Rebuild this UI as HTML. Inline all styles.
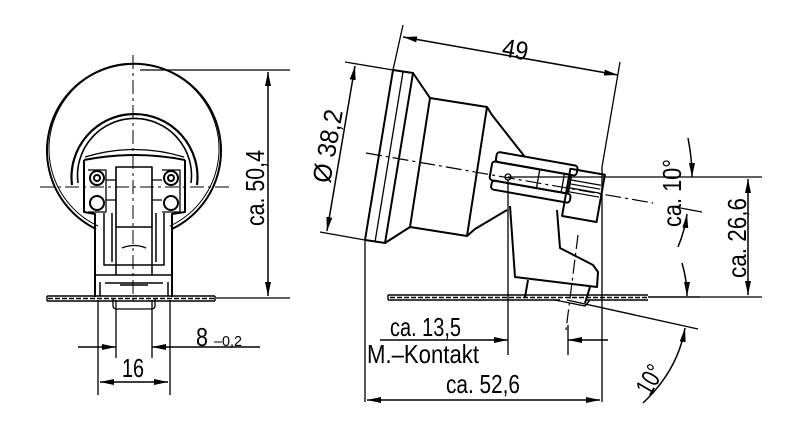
<!DOCTYPE html>
<html><head><meta charset="utf-8"><style>
html,body{margin:0;padding:0;background:#fff;}
svg{display:block}
text{font-family:"Liberation Sans Narrow","Liberation Sans",sans-serif;fill:#000}
</style></head><body>
<svg width="800" height="434" viewBox="0 0 800 434" xmlns="http://www.w3.org/2000/svg">
<defs>
<marker id="b" viewBox="0 0 14 6" refX="14" refY="3" markerWidth="14" markerHeight="6" markerUnits="userSpaceOnUse" orient="auto-start-reverse"><path d="M0,0 L14,3 L0,6 z" fill="#000"/></marker>
</defs>
<g fill="none" stroke="#000" stroke-width="2" stroke-linejoin="round">
<!-- LEFT VIEW -->
<path d="M96,229 A87,87 0 1 1 172,229"/>
<path d="M98,226 A85,85 0 1 1 170,226" stroke-width="1"/>
<path d="M72,185 A63,63 0 1 1 197,185" stroke-width="2.2"/>
<path d="M78,183 A57,57 0 1 1 191,183" stroke-width="1.6"/>
<path d="M84,160 L84,212 L95,214 L95,297 M185,160 L185,212 L172,214 L172,297"/>
<path d="M84,160 Q134,150 185,160" />
<path d="M85,157 Q134,142 184,157" stroke-width="1.3"/>
<rect x="116" y="167" width="36" height="60" stroke-width="1.6"/>
<path d="M104,213 V265 H164 V213 M112,213 V262 M156,213 V262 M116,227 V275 H152 V227 M120,285 H148 M95,275 H172 M100,282 V296 M168,282 V296 M105,283 H163" stroke-width="1.5"/>
<path d="M122,248 Q134,243 146,248" stroke-width="1.3"/>
<circle cx="97" cy="178" r="7"/><circle cx="97" cy="178" r="3"/>
<circle cx="97" cy="203" r="7"/>
<circle cx="171" cy="178" r="7"/><circle cx="171" cy="178" r="3"/>
<circle cx="171" cy="203" r="7"/>
<path d="M88,170 H106 V212 H88 M162,170 H180 V212 H162" stroke-width="1.3"/>
<path d="M106,180 H116 M106,200 H116 M152,180 H162 M152,200 H162" stroke-width="1.3"/>
<path d="M113,299 V306 Q113,309 117,309 H151 Q155,309 155,306 V299" stroke-width="1.3"/>
<!-- plate left -->
<path d="M47,296 H215 M47,301 H215 M47,296 V301 M215,296 V301" stroke-width="1.4"/>
<path d="M48,298.5 H214" stroke-width="1.6" stroke-dasharray="5,2"/>
<!-- left centerlines -->
<path d="M133,55 V305" stroke-width="1" stroke-dasharray="14,4,3,4"/>
<path d="M40,187 H230" stroke-width="1" stroke-dasharray="14,4,3,4"/>
<!-- dims left -->
<path d="M140,70 H290 M216,298 H290" stroke-width="1.3"/>
<path d="M268,72 V296" stroke-width="1.5" marker-start="url(#b)" marker-end="url(#b)"/>
<path d="M98,300 V395 M170,300 V395 M116,300 V358 M152,300 V358" stroke-width="1.3"/>
<path d="M78,347 H116" stroke-width="1.5" marker-end="url(#b)"/>
<path d="M260,347 H152" stroke-width="1.5" marker-end="url(#b)"/>
<path d="M100,382 H168" stroke-width="1.5" marker-start="url(#b)" marker-end="url(#b)"/>
</g>
<text font-size="26" transform="translate(264,226) rotate(-90)" textLength="76" lengthAdjust="spacingAndGlyphs">ca. 50,4</text>
<text x="196" y="346" font-size="26" textLength="12" lengthAdjust="spacingAndGlyphs">8</text>
<text x="214" y="346" font-size="15" textLength="28" lengthAdjust="spacingAndGlyphs">–0,2</text>
<text x="122" y="377" font-size="26" textLength="22" lengthAdjust="spacingAndGlyphs">16</text>

<g fill="none" stroke="#000" stroke-width="2" stroke-linejoin="round">
<!-- RIGHT VIEW body -->
<path d="M393,70 L413,73 L430,98 L487,107 L492,115 L525,157"/>
<path d="M365,240 L385,243 L410,227 L467,236 L475,229 L507,210"/>
<path d="M393,70 L365,240 M413,73 L385,243 M430,98 L410,227 M487,107 L467,236"/>
<path d="M403,72 L375,242" stroke-width="1.3"/>
<!-- connector -->
<g transform="translate(508,177) rotate(10)">
<rect x="-15" y="-23" width="82" height="10" rx="3"/>
<rect x="-18" y="-13" width="80" height="19" rx="3"/>
<rect x="-15" y="6" width="80" height="9" rx="3"/>
<path d="M30,-13 V6 M55,-13 V6" stroke-width="1.3"/>
<rect x="60" y="-19" width="35" height="48"/>
<path d="M62,-8 H93 M62,-4 H93 M62,0 H93 M62,4 H93" stroke-width="1.2"/>
</g>
<path d="M510,206 L515,277 L597,287 L598,272 L593,265 L560,248 L557,210"/>
<path d="M528,280 L525,297 M590,287 L585,303"/>
<circle cx="508" cy="177" r="3" stroke-width="1.3"/>
<!-- plate right -->
<path d="M388,295 H648 M388,300 H560 M585,300 H648 M388,295 V300" stroke-width="1.4"/>
<path d="M390,297.5 H647" stroke-width="1.6" stroke-dasharray="5,2"/>
<path d="M648,297 H700" stroke-width="1.5"/>
<path d="M555,300 L585,306 L590,300" stroke-width="1.4"/>
<path d="M567,300 L698,329" stroke-width="1.4"/>
<!-- centerlines -->
<path d="M366,153 L653,203" stroke-width="1.2" stroke-dasharray="16,4,3,4"/>
<path d="M578,235 L566,330" stroke-width="1.2" stroke-dasharray="14,4,3,4"/>
<!-- ext lines -->
<path d="M403,25 L393,70" stroke-width="1.3"/>
<path d="M620,62 L602,167 V402" stroke-width="1.3"/>
<path d="M365,240 V402" stroke-width="1.3"/>
<path d="M345,62 L393,70 M320,232 L365,240" stroke-width="1.3"/>
<path d="M508,180 V355 M568,325 V355" stroke-width="1.3"/>
<path d="M508,177 H762 M700,297 H762" stroke-width="1.3"/>
<!-- dims right -->
<path d="M403,37 L618,75" stroke-width="1.5" marker-start="url(#b)" marker-end="url(#b)"/>
<path d="M355,66 L327,231" stroke-width="1.5" marker-start="url(#b)" marker-end="url(#b)"/>
<path d="M748,179 V295" stroke-width="1.5" marker-start="url(#b)" marker-end="url(#b)"/>
<path d="M380,340 H508" stroke-width="1.5" marker-end="url(#b)"/>
<path d="M608,340 H568" stroke-width="1.5" marker-end="url(#b)"/>
<path d="M367,400 H600" stroke-width="1.5" marker-start="url(#b)" marker-end="url(#b)"/>
<!-- angle arcs -->
<path d="M688,138 Q692,158 692,177" stroke-width="1.5" marker-end="url(#b)"/>
<path d="M678,247 Q685,230 687,214" stroke-width="1.5" marker-end="url(#b)"/>
<path d="M675,207 L702,212" stroke-width="1.3"/>
<path d="M682,263 Q687,280 687,296" stroke-width="1.5" marker-end="url(#b)"/>
<path d="M643,403 Q678,370 685,328" stroke-width="1.5" marker-end="url(#b)"/>
</g>
<text font-size="26" transform="translate(501,56) rotate(10)" textLength="26" lengthAdjust="spacingAndGlyphs">49</text>
<text font-size="26" transform="translate(330,184) rotate(-80)" textLength="74" lengthAdjust="spacingAndGlyphs">Ø 38,2</text>
<text font-size="26" transform="translate(681,227) rotate(-90)" textLength="68" lengthAdjust="spacingAndGlyphs">ca. 10°</text>
<text font-size="26" transform="translate(746,278) rotate(-90)" textLength="80" lengthAdjust="spacingAndGlyphs">ca. 26,6</text>
<text font-size="26" transform="translate(650,397) rotate(-60)" textLength="30" lengthAdjust="spacingAndGlyphs">10°</text>
<text x="390" y="336" font-size="26" textLength="71" lengthAdjust="spacingAndGlyphs">ca. 13,5</text>
<text x="367" y="363" font-size="26" textLength="112" lengthAdjust="spacingAndGlyphs">M.–Kontakt</text>
<text x="446" y="393" font-size="26" textLength="74" lengthAdjust="spacingAndGlyphs">ca. 52,6</text>
</svg>
</body></html>
